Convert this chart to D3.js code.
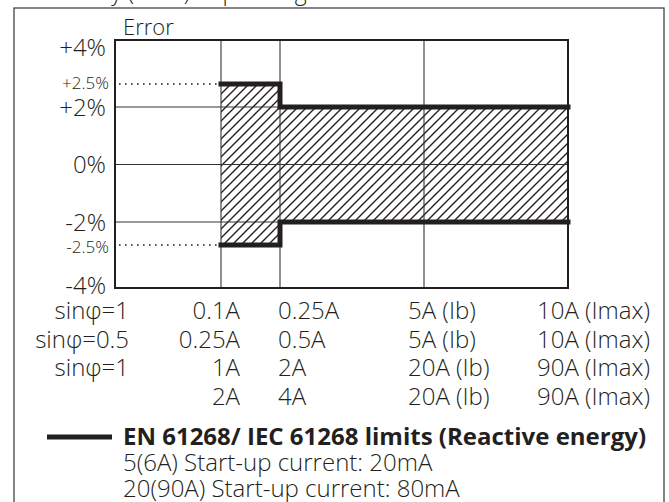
<!DOCTYPE html>
<html>
<head>
<meta charset="utf-8">
<script src="https://cdn.jsdelivr.net/npm/d3@7"></script>
<style>
  body { margin: 0; background: #fff; }
  svg text { font-family: "Open Sans", "Liberation Sans", Arial, sans-serif; font-weight: 300; fill: #231f20; }
</style>
</head>
<body>
<svg id="chart" width="669" height="502"></svg>
<script>
// y axis labels (error in %)
var yMajor = [4, 2, 0, -2, -4];
var yMinor = [2.5, -2.5];
var yGrid = [2, 0, -2];

// x columns (current), index 0 = left edge of the plot
var colIndex = [0, 1, 2, 3, 4];
var xGrid = [1, 2, 3];

// label rows under the plot
var rowNames = ["sinφ=1", "sinφ=0.5", "sinφ=1", ""];
var col1 = ["0.1A", "0.25A", "1A", "2A"];
var col2 = ["0.25A", "0.5A", "2A", "4A"];
var col3 = ["5A (Ib)", "5A (Ib)", "20A (Ib)", "20A (Ib)"];
var col4 = ["10A (Imax)", "10A (Imax)", "90A (Imax)", "90A (Imax)"];

// limit band: [from column, to column, upper %, lower %]
var limitFrom = [1, 2];
var limitTo = [2, 4];
var limitUpper = [2.5, 2];
var limitLower = [-2.5, -2];

var legendTitle = "EN 61268/ IEC 61268 limits (Reactive energy)";
var legendNotes = ["5(6A)  Start-up current: 20mA", "20(90A) Start-up current: 80mA"];

var svg = d3.select("#chart");
var ink = "#231f20";

// the drawing is schematic, so both scales are piecewise
var x = d3.scaleLinear().domain(colIndex).range([115, 221, 280, 424, 568]);
var y = d3.scaleLinear().domain([-4, -2.5, -2, 0, 2, 2.5, 4]).range([288, 245, 222, 164.5, 107, 84, 40]);

// hatch pattern
var defs = svg.append("defs");
defs.append("pattern")
  .attr("id", "hatch")
  .attr("patternUnits", "userSpaceOnUse")
  .attr("width", 9).attr("height", 9)
  .append("path")
  .attr("d", "M0,9 L9,0 M-2,2 L2,-2 M7,11 L11,7")
  .attr("stroke", ink).attr("stroke-width", 1.4);

// outer frame, bottom runs off the picture
svg.append("rect")
  .attr("x", 14).attr("y", 8).attr("width", 650).attr("height", 520)
  .attr("fill", "none").attr("stroke", "#444").attr("stroke-width", 1.3);

// title, mostly cut off at the top
svg.append("text")
  .attr("x", 30).attr("y", 0)
  .style("font-size", "23px")
  .text("Accuracy (class) depending on the current");

var g = svg.append("g");

// hatched area
limitFrom.forEach(function(f, i) {
  g.append("rect")
    .attr("x", x(f)).attr("y", y(limitUpper[i]))
    .attr("width", x(limitTo[i]) - x(f))
    .attr("height", y(limitLower[i]) - y(limitUpper[i]))
    .attr("fill", "url(#hatch)");
});

// grid
g.selectAll(".hgrid").data(yGrid).enter().append("line")
  .attr("x1", x(0)).attr("x2", x(4))
  .attr("y1", d => y(d)).attr("y2", d => y(d))
  .attr("stroke", "#333").attr("stroke-width", 1.1);
g.selectAll(".vgrid").data(xGrid).enter().append("line")
  .attr("x1", d => x(d)).attr("x2", d => x(d))
  .attr("y1", y(4)).attr("y2", y(-4))
  .attr("stroke", "#333").attr("stroke-width", 1.1);

// dotted lines to the ±2.5% labels
g.selectAll(".dots").data(yMinor).enter().append("line")
  .attr("x1", x(0) + 4).attr("x2", x(1))
  .attr("y1", d => y(d)).attr("y2", d => y(d))
  .attr("stroke", ink).attr("stroke-width", 1.6)
  .attr("stroke-dasharray", "1.6,4.4");

// plot frame
g.append("rect")
  .attr("x", x(0)).attr("y", y(4))
  .attr("width", x(4) - x(0)).attr("height", y(-4) - y(4))
  .attr("fill", "none").attr("stroke", ink).attr("stroke-width", 2);

// limit lines
function stepLine(vals) {
  var pts = [];
  limitFrom.forEach(function(f, i) {
    pts.push([x(f), y(vals[i])]);
    pts.push([x(limitTo[i]), y(vals[i])]);
  });
  return pts;
}
[limitUpper, limitLower].forEach(function(vals) {
  g.append("path")
    .attr("d", d3.line()(stepLine(vals)))
    .attr("fill", "none").attr("stroke", ink)
    .attr("stroke-width", 5).attr("stroke-linejoin", "miter")
    .attr("stroke-linecap", "square");
});

// axis title
svg.append("text")
  .attr("x", 123).attr("y", 35)
  .style("font-size", "22px")
  .text("Error");

// y labels
svg.selectAll(".ymaj").data(yMajor).enter().append("text")
  .attr("x", 106)
  .attr("y", d => Math.min(Math.max(y(d), 47), 285))
  .attr("dy", "0.36em")
  .attr("text-anchor", "end")
  .style("font-size", "24px")
  .text(d => (d > 0 ? "+" : "") + d + "%");
svg.selectAll(".ymin").data(yMinor).enter().append("text")
  .attr("x", 109)
  .attr("y", d => y(d) + (d < 0 ? 2 : -1))
  .attr("dy", "0.36em")
  .attr("text-anchor", "end")
  .style("font-size", "17px")
  .text(d => (d > 0 ? "+" : "") + d + "%");

// x label table
var rowY = d3.scaleLinear().domain([0, 3]).range([319, 405]);
var cols = [
  { labels: rowNames, x: 129, anchor: "end" },
  { labels: col1, x: x(1) + 19, anchor: "end" },
  { labels: col2, x: x(2) - 2, anchor: "start" },
  { labels: col3, x: x(3) - 16, anchor: "start" },
  { labels: col4, x: x(4) + 82, anchor: "end" }
];
cols.forEach(function(c) {
  svg.selectAll(null).data(c.labels).enter().append("text")
    .attr("x", c.x)
    .attr("y", (d, i) => rowY(i))
    .attr("text-anchor", c.anchor)
    .style("font-size", "24px")
    .text(d => d);
});

// legend
svg.append("line")
  .attr("x1", 47).attr("x2", 112).attr("y1", 437).attr("y2", 437)
  .attr("stroke", ink).attr("stroke-width", 5);
svg.append("text")
  .attr("x", 123).attr("y", 445)
  .style("font-size", "24px").style("font-weight", "bold")
  .text(legendTitle);
svg.selectAll(".note").data(legendNotes).enter().append("text")
  .attr("x", 123)
  .attr("y", (d, i) => 471 + i * 26)
  .style("font-size", "24px")
  .text(d => d);
</script>
</body>
</html>
